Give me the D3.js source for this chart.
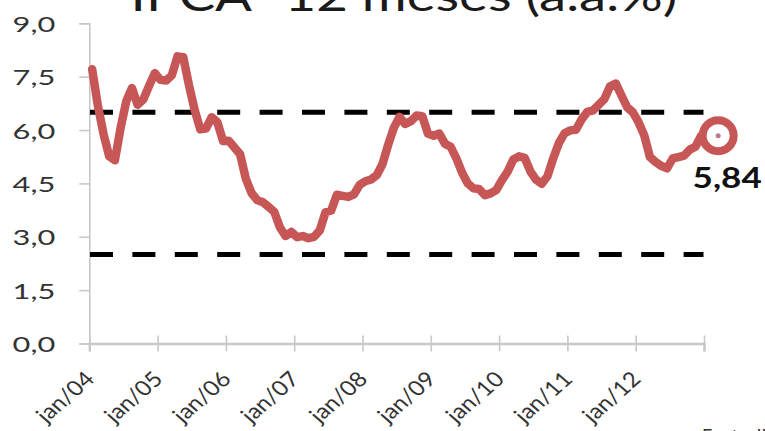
<!DOCTYPE html>
<html>
<head>
<meta charset="utf-8">
<script src="https://cdn.jsdelivr.net/npm/d3@7"></script>
<style>
  html, body { margin: 0; padding: 0; background: #ffffff; }
  svg { display: block; }
  text { font-family: Lato, "Open Sans", sans-serif; }
</style>
</head>
<body>
<svg id="chart" width="765" height="431"></svg>
<script>
// IPCA accumulated over 12 months, monthly, jan/2004 – dec/2012 (% a.a.)
const ipca2004 = [7.71, 6.69, 5.89, 5.26, 5.15, 6.06, 6.81, 7.18, 6.71, 6.86, 7.24, 7.60];
const ipca2005 = [7.41, 7.39, 7.54, 8.07, 8.05, 7.27, 6.57, 6.02, 6.04, 6.36, 6.22, 5.69];
const ipca2006 = [5.70, 5.51, 5.32, 4.63, 4.23, 4.03, 3.97, 3.84, 3.70, 3.26, 3.02, 3.14];
const ipca2007 = [2.99, 3.02, 2.96, 3.00, 3.18, 3.69, 3.74, 4.18, 4.15, 4.12, 4.19, 4.46];
const ipca2008 = [4.56, 4.61, 4.73, 5.04, 5.58, 6.06, 6.37, 6.17, 6.25, 6.41, 6.39, 5.90];
const ipca2009 = [5.84, 5.90, 5.61, 5.53, 5.20, 4.80, 4.50, 4.36, 4.34, 4.17, 4.22, 4.31];
const ipca2010 = [4.59, 4.83, 5.17, 5.26, 5.22, 4.84, 4.60, 4.49, 4.70, 5.20, 5.63, 5.91];
const ipca2011 = [5.99, 6.01, 6.30, 6.51, 6.55, 6.71, 6.87, 7.23, 7.31, 6.97, 6.64, 6.50];
const ipca2012 = [6.22, 5.85, 5.24, 5.10, 4.99, 4.92, 5.20, 5.24, 5.28, 5.45, 5.53, 5.84];

// Inflation target band: upper and lower limits
const targetLimits = [6.5, 2.5];

const yearLabels = ["jan/04", "jan/05", "jan/06", "jan/07", "jan/08", "jan/09", "jan/10", "jan/11", "jan/12"];
const yTicks = [0, 1.5, 3.0, 4.5, 6.0, 7.5, 9.0];

const title = "IPCA -12 meses (a.a.%)";
const sourceNote = "Fonte: IBGE";

const ipca = [].concat(ipca2004, ipca2005, ipca2006, ipca2007, ipca2008,
                       ipca2009, ipca2010, ipca2011, ipca2012);
const lastValue = ipca[ipca.length - 1];

const fmt = v => d3.format(".1f")(v).replace(".", ",");
const fmt2 = v => d3.format(".2f")(v).replace(".", ",");

const svg = d3.select("#chart");

// Months on a continuous index; each month sits in the middle of its slot.
const nMonths = ipca.length;
const x = d3.scaleLinear().domain([0, nMonths]).range([89.3, 704]);
const y = d3.scaleLinear().domain([0, 9]).range([343.5, 23.3]);

const axisGray = "#c8c8c8";
const lineRed = "#c75656";

// Title (partly above the top edge)
svg.append("text")
  .attr("transform", "translate(404,11) scale(1.3,1)")
  .attr("text-anchor", "middle")
  .attr("font-size", 42)
  .attr("fill", "#1a1a1a")
  .text(title);

// Y axis
const yAxis = svg.append("g")
  .attr("transform", `translate(${x(0)},0)`)
  .call(d3.axisLeft(y).tickValues(yTicks).tickSize(10).tickPadding(24).tickFormat(fmt));
yAxis.select(".domain").attr("stroke", axisGray).attr("stroke-width", 1.6);
yAxis.selectAll(".tick line").attr("stroke", axisGray).attr("stroke-width", 1.6);
yAxis.selectAll(".tick text")
  .attr("x", null)
  .attr("dy", null)
  .attr("dominant-baseline", "central")
  .attr("transform", "translate(-34,0) scale(1.4,1)")
  .attr("font-size", 22)
  .attr("fill", "#333");

// X axis, year ticks every 12 months
const xTickValues = d3.range(0, nMonths + 1, 12);
const xAxis = svg.append("g")
  .attr("transform", `translate(0,${y(0)})`)
  .call(d3.axisBottom(x).tickValues(xTickValues).tickSize(8)
    .tickFormat((d, i) => yearLabels[i] || ""));
xAxis.select(".domain").attr("stroke", axisGray).attr("stroke-width", 2.4);
xAxis.selectAll(".tick line").attr("y1", -8).attr("y2", 8)
  .attr("stroke", axisGray).attr("stroke-width", 1.6);
xAxis.selectAll(".tick text")
  .attr("y", null).attr("dy", null)
  .attr("text-anchor", "end")
  .attr("transform", "translate(6,37) scale(1.15,1) rotate(-45)")
  .attr("font-size", 21)
  .attr("fill", "#333");

// Target band limits as dashed lines
svg.append("g").selectAll("line")
  .data(targetLimits)
  .join("line")
  .attr("x1", x(0) + 0.7)
  .attr("x2", x(nMonths) - 0.5)
  .attr("y1", d => y(d))
  .attr("y2", d => y(d))
  .attr("stroke", "#000")
  .attr("stroke-width", 5)
  .attr("stroke-dasharray", "23,19.4");

// IPCA line
const line = d3.line()
  .x((d, i) => x(i + 0.5))
  .y(d => y(d))
  .curve(d3.curveLinear);

svg.append("path")
  .datum(ipca)
  .attr("d", line)
  .attr("fill", "none")
  .attr("stroke", lineRed)
  .attr("stroke-width", 8.5)
  .attr("stroke-linejoin", "round")
  .attr("stroke-linecap", "round");

// Highlight of the latest reading
const markerOffset = 17;
const cx = x(nMonths - 0.5) + markerOffset;
const cy = y(lastValue);
svg.append("circle")
  .attr("cx", cx).attr("cy", cy).attr("r", 15.5)
  .attr("fill", "#fff")
  .attr("stroke", lineRed)
  .attr("stroke-width", 8);
svg.append("circle")
  .attr("cx", cx).attr("cy", cy).attr("r", 2.5)
  .attr("fill", "#b97a93");

svg.append("text")
  .attr("transform", `translate(${cx + 9},${cy + 52}) scale(1.25,1)`)
  .attr("text-anchor", "middle")
  .attr("font-size", 28)
  .attr("font-weight", "bold")
  .attr("fill", "#111")
  .text(fmt2(lastValue));

// Source note, below the visible area edge
svg.append("text")
  .attr("x", 702)
  .attr("y", 442)
  .attr("font-size", 18)
  .attr("fill", "#333")
  .text(sourceNote);
</script>
</body>
</html>
